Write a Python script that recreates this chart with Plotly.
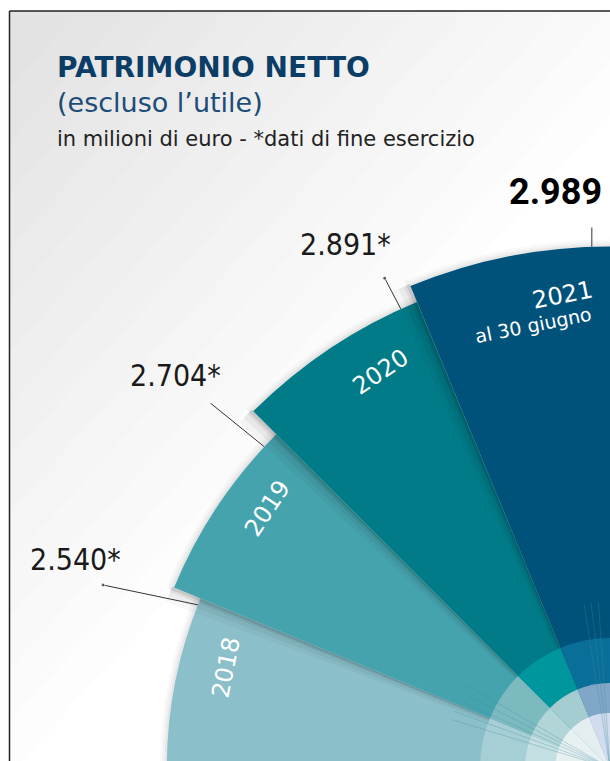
import math
import plotly.graph_objects as go

# ---------------- data ----------------
years = ["2018", "2019", "2020", "2021"]
values = [2540, 2704, 2891, 2989]
value_labels = ["2.540*", "2.704*", "2.891*", "2.989"]
year_labels = ["2018", "2019", "2020", "2021"]
sub_labels = ["", "", "", "al 30 giugno"]

title_main = "PATRIMONIO NETTO"
title_sub = "(escluso l’utile)"
title_note = "in milioni di euro - *dati di fine esercizio"

# ---------------- style / geometry ----------------
W, H = 610, 768            # figure (the window shows the top 761 px)
CX, CY = 610, 768          # pixel position of the polar centre
RMAX = 3100                # radial axis max
S = 0.1745                 # px per unit
L = RMAX * S               # pixel radius of the polar area

SLOT = 22.5
theta_c = [180 - SLOT / 2 - SLOT * i for i in range(len(years))]

colors = ["#8bbfca", "#45a3ad", "#007b87", "#01527a"]
ring_radii = [745, 487, 315]
ring_colors = [
    ["#a6ced5", "#7dbac0", "#00969e", "#0a6f98"],
    ["#c3dfe2", "#b2d5d8", "#a5cdd1", "#80a7c8"],
    ["#e7f1f2", "#e7f1f2", "#e4eef0", "#d1ddee"],
]
fan_angles = [94, 96.5, 99, 150, 153, 156, 160, 163]

year_pos = [(2274, 165.4), (2462, 142.8), (2624, 120.1), (2724, 95.7)]
sub_pos = (2577, 99.9)
value_pos = [(3289, 158.75), (3356, 137.97), (3360, 116.87), (3316, 95.45)]
leader_theta_in = [158.4, 137.1, 114.5, 92.0]
leader_theta_out = [160.15, 137.6, 114.7, 91.9]
leader_rout = [3089, 3103, 3090, 3136]

NARROW = "Liberation Sans Narrow, DejaVu Sans Condensed, Roboto Condensed, Roboto"


def to_paper(r, th):
    px = CX + r * S * math.cos(math.radians(th))
    py = CY - r * S * math.sin(math.radians(th))
    return px / W, (H - py) / H


fig = go.Figure()

def bar(r, th, width, color):
    fig.add_trace(go.Barpolar(r=r, theta=th, width=width,
                              marker=dict(color=color, line=dict(width=0)),
                              hoverinfo="skip", showlegend=False))

for i, v in enumerate(values):
    # soft glow beyond the outer arc
    for d, a in [(40, 0.025), (26, 0.03), (13, 0.04)]:
        bar([v + d], [theta_c[i]], [SLOT + 0.8], f"rgba(0,0,0,{a})")
    # shadow cast on the neighbouring (earlier) wedge
    if i > 0:
        edge = theta_c[i] + SLOT / 2
        for w, a in [(2.0, 0.03), (1.3, 0.045), (0.7, 0.06)]:
            bar([v + 12], [edge + w / 2], [w], f"rgba(0,0,0,{a})")
    bar([v], [theta_c[i]], [SLOT], colors[i])

for rr, rc in zip(ring_radii, ring_colors):
    bar([rr] * len(values), theta_c, [SLOT] * len(values), rc)

for a in fan_angles:
    fig.add_trace(go.Scatterpolar(r=[0, 950], theta=[a, a], mode="lines",
                                  line=dict(color="rgba(70,140,160,0.45)", width=0.7),
                                  hoverinfo="skip", showlegend=False))

# leader lines
for i, v in enumerate(values):
    fig.add_trace(go.Scatterpolar(
        r=[v, leader_rout[i]], theta=[leader_theta_in[i], leader_theta_out[i]],
        mode="lines+markers",
        line=dict(color="#333333", width=1),
        marker=dict(size=[0, 4], color="#333333"),
        hoverinfo="skip", showlegend=False))

annotations = []
for i in range(len(years)):
    x, y = to_paper(*year_pos[i])
    annotations.append(dict(x=x, y=y, xref="paper", yref="paper", text=year_labels[i],
                            showarrow=False, textangle=-(theta_c[i] - 90),
                            font=dict(family="DejaVu Sans", size=24, color="white"),
                            xanchor="center", yanchor="middle"))
    if sub_labels[i]:
        x, y = to_paper(*sub_pos)
        annotations.append(dict(x=x, y=y, xref="paper", yref="paper", text=sub_labels[i],
                                showarrow=False, textangle=-(theta_c[i] - 90),
                                font=dict(family="DejaVu Sans", size=19, color="white"),
                                xanchor="center", yanchor="middle"))
    x, y = to_paper(*value_pos[i])
    last = i == len(years) - 1
    annotations.append(dict(x=x, y=y, xref="paper", yref="paper",
                            text=value_labels[i],
                            showarrow=False,
                            font=dict(family="Roboto" if last else NARROW,
                                      size=36 if last else 30,
                                      weight=700 if last else 300,
                                      color="#000000" if last else "#1a1a1a"),
                            xanchor="center", yanchor="middle"))

# titles
annotations.append(dict(x=55 / W, y=1 - 67 / H, xref="paper", yref="paper",
                        text="<b>%s</b>" % title_main, showarrow=False,
                        font=dict(family="DejaVu Sans", size=28, color="#0b3d66"),
                        xanchor="left", yanchor="middle"))
annotations.append(dict(x=55 / W, y=1 - 102 / H, xref="paper", yref="paper",
                        text=title_sub, showarrow=False,
                        font=dict(family="DejaVu Sans", size=27, color="#1c4c78"),
                        xanchor="left", yanchor="middle"))
annotations.append(dict(x=55 / W, y=1 - 139 / H, xref="paper", yref="paper",
                        text=title_note, showarrow=False,
                        font=dict(family="DejaVu Sans", size=21, color="#222222"),
                        xanchor="left", yanchor="middle"))

# background gradient (top-left grey fading to white) and frame
shapes = []
x0, y0 = 10, 11
for k in range(14):
    a = 70 + 48 * k
    b = a * 1.1
    path = "M %f %f L %f %f L %f %f Z" % (x0 / W, 1 - y0 / H, (x0 + a) / W, 1 - y0 / H,
                                          x0 / W, 1 - (y0 + b) / H)
    shapes.append(dict(type="path", path=path, xref="paper", yref="paper",
                       fillcolor="rgba(0,0,0,0.008)", line=dict(width=0), layer="below"))
shapes.append(dict(type="line", xref="paper", yref="paper", x0=9.5 / W, x1=9.5 / W,
                   y0=0, y1=1 - 11 / H, line=dict(color="#222222", width=1.5)))
shapes.append(dict(type="line", xref="paper", yref="paper", x0=9.5 / W, x1=1,
                   y0=1 - 11 / H, y1=1 - 11 / H, line=dict(color="#222222", width=1.5)))

fig.update_layout(
    width=W, height=H,
    margin=dict(l=0, r=0, t=0, b=0),
    paper_bgcolor="white", plot_bgcolor="white",
    showlegend=False,
    polar=dict(
        barmode="overlay",
        domain=dict(x=[(CX - L) / W, CX / W], y=[(H - CY) / H, (H - CY + L) / H]),
        sector=[90, 180],
        bgcolor="rgba(0,0,0,0)",
        radialaxis=dict(range=[0, RMAX], visible=False, showgrid=False),
        angularaxis=dict(visible=False, showgrid=False, rotation=0,
                         direction="counterclockwise", thetaunit="degrees"),
    ),
    annotations=annotations,
    shapes=shapes,
)

fig.write_html("out.html", config={"displayModeBar": False},
               post_script="document.body.style.margin='0';document.body.style.padding='0';"
                           "document.body.style.overflow='hidden';")
